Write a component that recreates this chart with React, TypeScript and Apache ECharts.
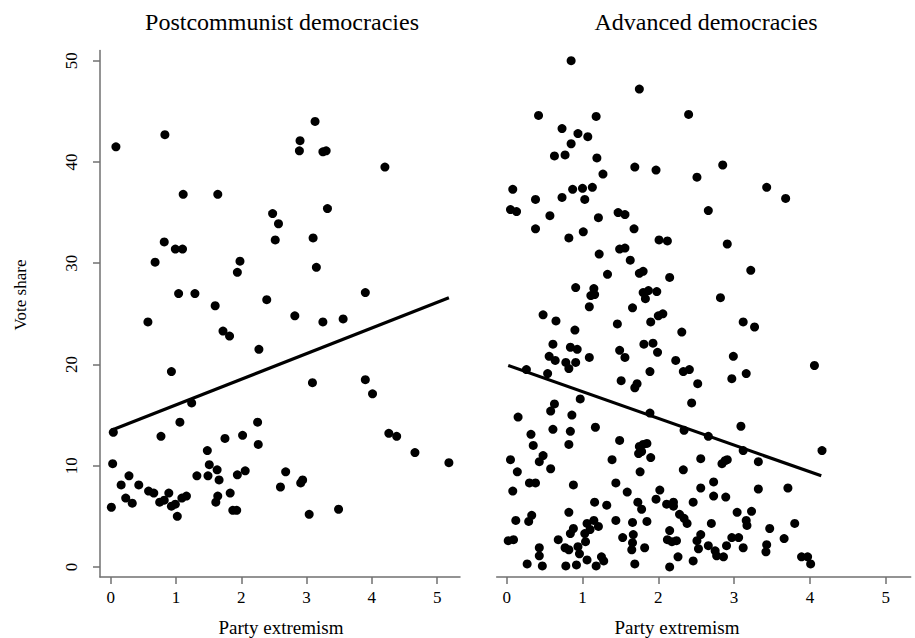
import React, { useEffect, useRef } from "react";
import * as echarts from "echarts";

// Panel titles and axis texts
const panelTitles = ["Postcommunist democracies", "Advanced democracies"];
const xAxisTitle = "Party extremism";
const yAxisTitle = "Vote share";
const xTicks = [0, 1, 2, 3, 4, 5];
const yTicks = [0, 10, 20, 30, 40, 50];

// Postcommunist democracies: [party extremism, vote share]
const postcommunistPoints: number[][] = [
  [0.08, 41.5], [0.83, 42.7], [1.11, 36.8], [1.64, 36.8], [2.48, 34.9], [2.57, 33.9],
  [2.52, 32.3], [0.82, 32.1], [0.99, 31.4], [1.1, 31.4], [0.68, 30.1], [1.98, 30.2],
  [1.94, 29.1], [1.04, 27.0], [1.29, 27.0], [2.39, 26.4], [1.6, 25.8],
  [3.13, 44.0], [2.9, 42.1], [2.89, 41.1], [3.25, 41.0], [3.3, 41.1], [4.2, 39.5],
  [3.32, 35.4], [3.1, 32.5], [3.15, 29.6], [3.9, 27.1],
  [0.57, 24.2], [1.72, 23.3], [1.82, 22.8], [2.27, 21.5], [0.93, 19.3], [1.24, 16.2],
  [1.06, 14.3], [0.04, 13.3], [0.77, 12.9], [1.75, 12.7], [2.02, 13.0], [2.25, 14.3],
  [2.26, 12.1], [0.03, 10.2], [1.48, 11.5], [1.51, 10.1], [1.63, 9.6], [1.49, 9.0],
  [1.32, 9.0], [1.66, 8.6], [1.94, 9.1], [2.06, 9.5], [0.28, 9.0], [0.16, 8.1],
  [0.43, 8.1], [0.23, 6.8], [0.33, 6.3], [0.01, 5.9], [0.58, 7.5], [0.66, 7.3],
  [0.89, 7.3], [0.75, 6.4], [0.82, 6.6], [0.93, 6.0], [0.99, 6.2], [1.02, 5.0],
  [1.09, 6.8], [1.16, 7.0], [1.83, 7.3], [1.64, 7.0], [1.61, 6.4], [1.87, 5.6],
  [1.93, 5.6], [2.6, 7.9],
  [2.82, 24.8], [3.25, 24.2], [3.56, 24.5], [3.09, 18.2], [3.9, 18.5], [4.01, 17.1],
  [4.26, 13.2], [4.38, 12.9], [4.66, 11.3], [5.18, 10.3], [2.68, 9.4], [2.91, 8.3],
  [2.94, 8.6], [3.04, 5.2], [3.49, 5.7],
];

// Advanced democracies: [party extremism, vote share]
const advancedPoints: number[][] = [
  [0.85, 50.0], [1.75, 47.2], [0.42, 44.6], [1.18, 44.5], [2.4, 44.7], [0.73, 43.3],
  [0.94, 42.8], [1.07, 42.5], [0.85, 41.8], [0.63, 40.6], [0.77, 40.7], [1.19, 40.4],
  [1.69, 39.5], [1.97, 39.2], [2.51, 38.5], [1.27, 38.8], [0.08, 37.3], [0.38, 36.3],
  [0.73, 36.5], [0.87, 37.3], [1.0, 37.4], [1.13, 37.5], [1.03, 36.3], [0.05, 35.3],
  [0.13, 35.1], [0.57, 34.7], [0.38, 33.4], [0.82, 32.5], [1.01, 33.1], [1.21, 34.5],
  [1.47, 35.0], [1.56, 34.8], [1.68, 33.4], [2.01, 32.3], [2.12, 32.2], [1.49, 31.4],
  [1.56, 31.5], [1.22, 30.9], [1.63, 30.3], [1.33, 28.9], [1.75, 29.0], [1.8, 29.2],
  [2.15, 28.6], [0.91, 27.6], [1.15, 27.5], [1.11, 26.8], [1.16, 26.9], [1.8, 27.1],
  [1.87, 27.3], [1.98, 27.2], [1.83, 26.5], [1.09, 25.7], [1.66, 25.6],
  [2.85, 39.7], [3.43, 37.5], [3.68, 36.4], [2.66, 35.2], [2.91, 31.9], [3.22, 29.3],
  [2.82, 26.6],
  [0.48, 24.9], [0.65, 24.3], [0.9, 23.4], [1.46, 24.0], [1.9, 24.2], [2.0, 24.8],
  [2.06, 25.0], [2.31, 23.2], [0.61, 22.0], [0.84, 21.7], [0.93, 21.5], [0.56, 20.8],
  [0.64, 20.4], [0.78, 20.2], [0.82, 19.6], [0.91, 20.2], [1.09, 20.7], [1.49, 21.4],
  [1.56, 20.7], [1.81, 22.0], [1.93, 22.1], [1.99, 21.2], [2.23, 20.4], [2.33, 19.3],
  [2.41, 19.5], [2.52, 18.1], [0.26, 19.5], [0.54, 19.1], [1.89, 19.3], [1.51, 18.4],
  [1.69, 17.7], [1.72, 18.1], [0.97, 16.6], [2.44, 16.2], [0.63, 16.1], [0.58, 15.4],
  [0.86, 15.0], [0.15, 14.8], [1.17, 13.8], [0.61, 13.6], [0.84, 13.4], [0.32, 13.1],
  [0.35, 12.0], [0.82, 12.1], [1.49, 12.5], [1.89, 15.2], [1.75, 11.9], [1.8, 12.1],
  [1.85, 12.2], [1.74, 11.2], [1.78, 11.4], [1.9, 10.8], [2.34, 13.5], [2.56, 10.7],
  [0.48, 11.0], [0.43, 10.4], [0.05, 10.6], [0.58, 9.7], [0.14, 9.4], [1.39, 10.6],
  [1.76, 9.4], [2.33, 9.6], [2.56, 7.8], [0.3, 8.3], [0.38, 8.3], [0.88, 8.1],
  [0.08, 7.5], [1.44, 8.3], [1.59, 7.4], [2.02, 7.6], [1.97, 6.7], [1.16, 6.4],
  [1.32, 6.1], [1.73, 6.4], [1.78, 5.7], [2.11, 6.2], [2.2, 6.4], [2.2, 6.0],
  [2.46, 6.4], [0.82, 5.4], [0.33, 5.1], [0.29, 4.5], [0.12, 4.6], [2.28, 5.2],
  [2.34, 4.8], [2.38, 4.3], [1.44, 4.6], [1.66, 4.4], [1.85, 4.5], [1.06, 4.3],
  [1.15, 4.6], [1.21, 4.0], [1.1, 3.7], [1.03, 3.3], [1.04, 2.5], [0.88, 3.8],
  [0.84, 3.3], [0.02, 2.6], [0.09, 2.7], [0.68, 2.7], [0.77, 1.9], [0.82, 1.7],
  [0.94, 2.0], [0.96, 1.3], [0.43, 1.9], [0.43, 1.1], [0.27, 0.3], [0.47, 0.1],
  [0.78, 0.1], [0.92, 0.2], [1.06, 0.7], [1.18, 0.1], [1.25, 1.0], [1.28, 0.6],
  [1.53, 2.9], [1.67, 3.2], [1.66, 2.4], [1.65, 1.7], [1.82, 1.9], [1.69, 0.3],
  [2.15, 3.6], [2.12, 2.7], [2.18, 2.5], [2.24, 2.6], [2.26, 1.0], [2.15, 0.0],
  [2.46, 0.6], [2.51, 2.6], [2.53, 1.8],
  [3.12, 24.2], [3.27, 23.7], [2.99, 20.8], [2.97, 18.6], [3.16, 19.1], [4.06, 19.9],
  [3.09, 13.9], [2.66, 12.9], [3.12, 11.5], [4.16, 11.5], [2.84, 10.2], [2.88, 10.5],
  [2.91, 10.6], [3.32, 10.4], [2.73, 8.4], [2.73, 7.0], [2.89, 6.9], [3.32, 7.7],
  [3.71, 7.8], [3.04, 5.4], [3.23, 5.5], [3.16, 4.6], [3.17, 4.1], [2.7, 4.3],
  [3.47, 3.8], [3.8, 4.3], [3.66, 2.8], [2.56, 3.2], [2.66, 2.1], [2.75, 1.6],
  [2.77, 1.1], [2.86, 1.0], [2.9, 2.1], [2.97, 2.9], [3.06, 2.9], [3.12, 1.9],
  [3.43, 2.2], [3.42, 1.5], [3.89, 1.0], [3.97, 1.0], [4.01, 0.3],
];

// Fitted lines (endpoints)
const postcommunistFit: number[][] = [[0.01, 13.5], [5.18, 26.6]];
const advancedFit: number[][] = [[0.02, 19.9], [4.15, 9.0]];

const FONT = '"Liberation Serif", "Times New Roman", "DejaVu Serif", serif';
const AXIS_COLOR = "#707070";

export default function App() {
  const ref = useRef<HTMLDivElement>(null);
  useEffect(() => {
    if (!ref.current) return;
    const chart = echarts.init(ref.current, null, { renderer: "svg" });
    const xAxisBase = (gridIndex: number, min: number, max: number) => ({
      type: "value",
      gridIndex,
      min,
      max,
      splitLine: { show: false },
      axisLine: { show: true, onZero: false, lineStyle: { color: AXIS_COLOR, width: 1.5 } },
      axisTick: { show: true, length: 7, customValues: xTicks, lineStyle: { color: AXIS_COLOR, width: 1.5 } },
      axisLabel: { customValues: xTicks, fontSize: 17, fontFamily: FONT, color: "#000", margin: 12 },
    });
    const textStyle = (size: number) => ({
      font: `${size}px ${FONT}`,
      fill: "#000",
      textAlign: "center",
      textVerticalAlign: "middle",
      align: "center",
      verticalAlign: "middle",
    });
    const option: any = {
      animation: false,
      backgroundColor: "#fff",
      textStyle: { fontFamily: FONT },
      grid: [
        { left: 100, top: 50.6, width: 360, height: 526.5, containLabel: false },
        { left: 496.7, top: 50.6, width: 414, height: 526.5, containLabel: false },
      ],
      xAxis: [xAxisBase(0, -0.164, 5.35), xAxisBase(1, -0.132, 5.33)],
      yAxis: [
        {
          type: "value",
          gridIndex: 0,
          min: -1,
          max: 51,
          splitLine: { show: false },
          axisLine: { show: true, onZero: false, lineStyle: { color: AXIS_COLOR, width: 1.5 } },
          axisTick: { show: true, length: 7, customValues: yTicks, lineStyle: { color: AXIS_COLOR, width: 1.5 } },
          axisLabel: { customValues: yTicks, rotate: 90, fontSize: 17, fontFamily: FONT, color: "#000", margin: 20 },
        },
        {
          type: "value",
          gridIndex: 1,
          min: -1,
          max: 51,
          show: false,
          splitLine: { show: false },
        },
      ],
      series: [
        {
          type: "scatter",
          xAxisIndex: 0,
          yAxisIndex: 0,
          data: postcommunistPoints,
          symbol: "circle",
          symbolSize: 9,
          itemStyle: { color: "#000", opacity: 1 },
        },
        {
          type: "line",
          xAxisIndex: 0,
          yAxisIndex: 0,
          data: postcommunistFit,
          symbol: "none",
          lineStyle: { color: "#000", width: 3.2 },
        },
        {
          type: "scatter",
          xAxisIndex: 1,
          yAxisIndex: 1,
          data: advancedPoints,
          symbol: "circle",
          symbolSize: 9,
          itemStyle: { color: "#000", opacity: 1 },
        },
        {
          type: "line",
          xAxisIndex: 1,
          yAxisIndex: 1,
          data: advancedFit,
          symbol: "none",
          lineStyle: { color: "#000", width: 3.2 },
        },
      ],
      graphic: [
        { type: "text", x: 282, y: 22, style: { text: panelTitles[0], ...textStyle(24) } },
        { type: "text", x: 706, y: 22, style: { text: panelTitles[1], ...textStyle(24) } },
        { type: "text", x: 281, y: 627, style: { text: xAxisTitle, ...textStyle(19) } },
        { type: "text", x: 677, y: 627, style: { text: xAxisTitle, ...textStyle(19) } },
        { type: "text", x: 20, y: 295, rotation: Math.PI / 2, style: { text: yAxisTitle, ...textStyle(17) } },
      ],
    };
    chart.setOption(option);
    return () => chart.dispose();
  }, []);
  return (
    <div
      ref={ref}
      style={{ position: "fixed", left: 0, top: 0, width: 915, height: 638, background: "#fff" }}
    />
  );
}
